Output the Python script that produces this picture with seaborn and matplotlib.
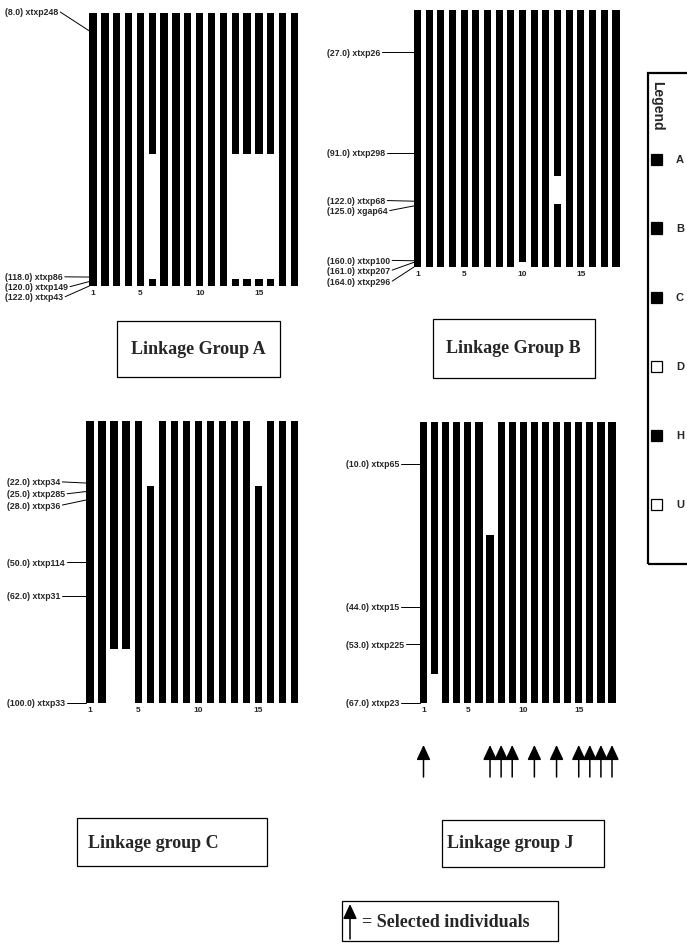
import numpy as np
import pandas as pd
import matplotlib
matplotlib.use("Agg")
import matplotlib.pyplot as plt
import seaborn as sns
from matplotlib.patches import Rectangle

sns.set_style("white")
plt.rcParams['font.family'] = ['Liberation Sans', 'DejaVu Sans']

# ---------------- data ----------------
individuals = [str(i) for i in range(1, 19)]
tick_idx = [1, 5, 10, 15]
tick_labels = ["1", "5", "10", "15"]

# Linkage group A
A_lengths = [122, 122, 122, 122, 122, 122, 122, 122, 122, 122, 122, 122, 122, 122, 122, 122, 122, 122]
A_marker_pos = [8.0, 118.0, 120.0, 122.0]
A_marker_names = ["xtxp248", "xtxp86", "xtxp149", "xtxp43"]
A_gap_ind = [6, 13, 14, 15, 16]
A_gap_start = [63, 63, 63, 63, 63]
A_gap_end = [119, 119, 119, 119, 119]

# Linkage group B
B_lengths = [164, 164, 164, 164, 164, 164, 164, 164, 164, 161, 164, 164, 164, 164, 164, 164, 164, 164]
B_marker_pos = [27.0, 91.0, 122.0, 125.0, 160.0, 161.0, 164.0]
B_marker_names = ["xtxp26", "xtxp298", "xtxp68", "xgap64", "xtxp100", "xtxp207", "xtxp296"]
B_gap_ind = [13]
B_gap_start = [106]
B_gap_end = [124]

# Linkage group C
C_lengths = [100, 100, 100, 100, 100, 100, 100, 100, 100, 100, 100, 100, 100, 100, 100, 100, 100, 100]
C_marker_pos = [22.0, 25.0, 28.0, 50.0, 62.0, 100.0]
C_marker_names = ["xtxp34", "xtxp285", "xtxp36", "xtxp114", "xtxp31", "xtxp33"]
C_gap_ind = [3, 4, 6, 15]
C_gap_start = [81, 81, 0, 0]
C_gap_end = [100, 100, 23, 23]

# Linkage group J
J_lengths = [67, 67, 67, 67, 67, 67, 67, 67, 67, 67, 67, 67, 67, 67, 67, 67, 67, 67]
J_marker_pos = [10.0, 44.0, 53.0, 67.0]
J_marker_names = ["xtxp65", "xtxp15", "xtxp225", "xtxp23"]
J_gap_ind = [2, 7]
J_gap_start = [60, 0]
J_gap_end = [67, 27]
J_selected = [1, 7, 8, 9, 11, 13, 15, 16, 17, 18]

legend_codes = ["A", "B", "C", "D", "H", "U"]
legend_filled = [True, True, True, False, True, False]

# ---------------- layout (pixels) ----------------
W, H = 687, 945
fig = plt.figure(figsize=(W / 100, H / 100), dpi=100)
fig.patch.set_facecolor("white")

layouts = {
    "A": dict(centers=(93, 294.5), top=14, bottom=287, width=0.62, label_x=5,
              label_y=[-0.45, 117.9, 122.3, 126.8]),
    "B": dict(centers=(417.5, 616), top=11, bottom=268, width=0.6, label_x=327,
              label_y=[27, 91, 121.6, 128, 159.8, 166, 173]),
    "C": dict(centers=(90, 294.5), top=422, bottom=704, width=0.6, label_x=7,
              label_y=[21.6, 25.8, 29.8, 50, 62, 100]),
    "J": dict(centers=(423.5, 612), top=423, bottom=704, width=0.65, label_x=346,
              label_y=[10, 44, 53, 67]),
}

SMALL = dict(fontsize=6.3, fontweight="bold", family=["Liberation Sans", "DejaVu Sans"])
TITLE = dict(fontsize=13, fontweight="bold", family=["Liberation Serif", "DejaVu Serif"])
ARROW = dict(arrowstyle="-|>,head_length=0.75,head_width=0.35", color="black",
             lw=1.1, mutation_scale=12, shrinkA=0, shrinkB=0)

pending_lines = []


def draw_group(key, lengths, mpos, mnames, gind, gstart, gend):
    L = layouts[key]
    c0, c1 = L["centers"]
    sp = (c1 - c0) / 17.0
    x0, x1 = c0 - 0.5 * sp, c1 + 0.5 * sp
    ax = fig.add_axes([x0 / W, 1 - L["bottom"] / H, (x1 - x0) / W, (L["bottom"] - L["top"]) / H])
    ax.patch.set_alpha(0)
    w = L["width"]
    full = pd.DataFrame({"ind": individuals, "cM": lengths})
    white_h = {s: 0.0 for s in individuals}
    black_h = {s: 0.0 for s in individuals}
    for i, s, e in zip(gind, gstart, gend):
        white_h[str(i)] = e
        black_h[str(i)] = s
    wdf = pd.DataFrame({"ind": individuals, "cM": [white_h[s] for s in individuals]})
    bdf = pd.DataFrame({"ind": individuals, "cM": [black_h[s] for s in individuals]})
    sns.barplot(data=full, x="ind", y="cM", order=individuals, color="black", saturation=1,
                width=w, errorbar=None, linewidth=0, ax=ax)
    sns.barplot(data=wdf, x="ind", y="cM", order=individuals, color="white", saturation=1,
                width=w + 0.06, errorbar=None, linewidth=0, ax=ax)
    sns.barplot(data=bdf, x="ind", y="cM", order=individuals, color="black", saturation=1,
                width=w, errorbar=None, linewidth=0, ax=ax)
    ymax = max(lengths)
    ax.set_xlim(-0.5, 17.5)
    ax.set_ylim(ymax, 0)
    for sp_ in ax.spines.values():
        sp_.set_visible(False)
    ax.set_yticks([])
    ax.set_xticks([t - 1 for t in tick_idx], tick_labels)
    ax.tick_params(axis="x", length=0, pad=2, labelsize=6)
    for t in ax.get_xticklabels():
        t.set_fontweight("bold")
    ax.set_xlabel("")
    ax.set_ylabel("")
    lx = -0.5 + (L["label_x"] - x0) / sp
    for p, n, ly in zip(mpos, mnames, L["label_y"]):
        txt = ax.text(lx, ly, f"({p:.1f}) {n}", ha="left", va="center", clip_on=False, **SMALL)
        pending_lines.append((ax, txt, ly, -w / 2, p))
    return ax


axA = draw_group("A", A_lengths, A_marker_pos, A_marker_names, A_gap_ind, A_gap_start, A_gap_end)
axB = draw_group("B", B_lengths, B_marker_pos, B_marker_names, B_gap_ind, B_gap_start, B_gap_end)
axC = draw_group("C", C_lengths, C_marker_pos, C_marker_names, C_gap_ind, C_gap_start, C_gap_end)
axJ = draw_group("J", J_lengths, J_marker_pos, J_marker_names, J_gap_ind, J_gap_start, J_gap_end)

# leader lines from label end to chromosome
fig.canvas.draw()
renderer = fig.canvas.get_renderer()
for ax, txt, ly, bx, p in pending_lines:
    bb = txt.get_window_extent(renderer)
    xr = ax.transData.inverted().transform((bb.x1 + 2, bb.y0))[0]
    ax.plot([xr, bx], [ly, p], color="black", lw=0.7, clip_on=False)

# selected-individual arrows under group J
for i in J_selected:
    axJ.annotate("", xy=(i - 1, H - 746), xytext=(i - 1, H - 778),
                 xycoords=("data", "figure pixels"), textcoords=("data", "figure pixels"),
                 arrowprops=ARROW, annotation_clip=False)


def fig_box(x0, y0, x1, y1, lw=0.9):
    fig.add_artist(Rectangle((x0 / W, 1 - y1 / H), (x1 - x0) / W, (y1 - y0) / H,
                             transform=fig.transFigure, fill=False, edgecolor="black", lw=lw))


# title boxes
fig_box(117, 322, 280, 378)
fig.text(198 / W, 1 - 350 / H, "Linkage Group A", ha="center", va="center", **TITLE)
fig_box(433, 320, 595, 379)
fig.text(513 / W, 1 - 349 / H, "Linkage Group B", ha="center", va="center", **TITLE)
fig_box(77, 819, 267, 867)
fig.text(88 / W, 1 - 843 / H, "Linkage group C", ha="left", va="center", **TITLE)
fig_box(442, 821, 604, 868)
fig.text(447 / W, 1 - 844 / H, "Linkage group J", ha="left", va="center", **TITLE)

# selected individuals key
fig_box(342, 902, 558, 942)
axJ.annotate("", xy=(350, H - 905), xytext=(350, H - 940),
             xycoords="figure pixels", textcoords="figure pixels",
             arrowprops=ARROW, annotation_clip=False)
fig.text(362 / W, 1 - 923 / H, "= Selected individuals", ha="left", va="center", **TITLE)

# legend
fig_box(648, 74, 720, 565, lw=1.6)
fig.text(657 / W, 1 - 106 / H, "Legend", rotation=-90, ha="center", va="center",
         fontsize=10, fontweight="bold", family=["Liberation Sans", "DejaVu Sans"])
for k, (code, filled) in enumerate(zip(legend_codes, legend_filled)):
    yc = 160 + 69 * k
    fig.add_artist(Rectangle((651 / W, 1 - (yc + 5.5) / H), 11 / W, 11 / H, transform=fig.transFigure,
                             facecolor="black" if filled else "white", edgecolor="black", lw=0.9))
    fig.text(676 / W, 1 - yc / H, code, ha="left", va="center", fontsize=8, fontweight="bold",
             family=["Liberation Sans", "DejaVu Sans"])

fig.savefig("out.png", dpi=100, facecolor="white")
